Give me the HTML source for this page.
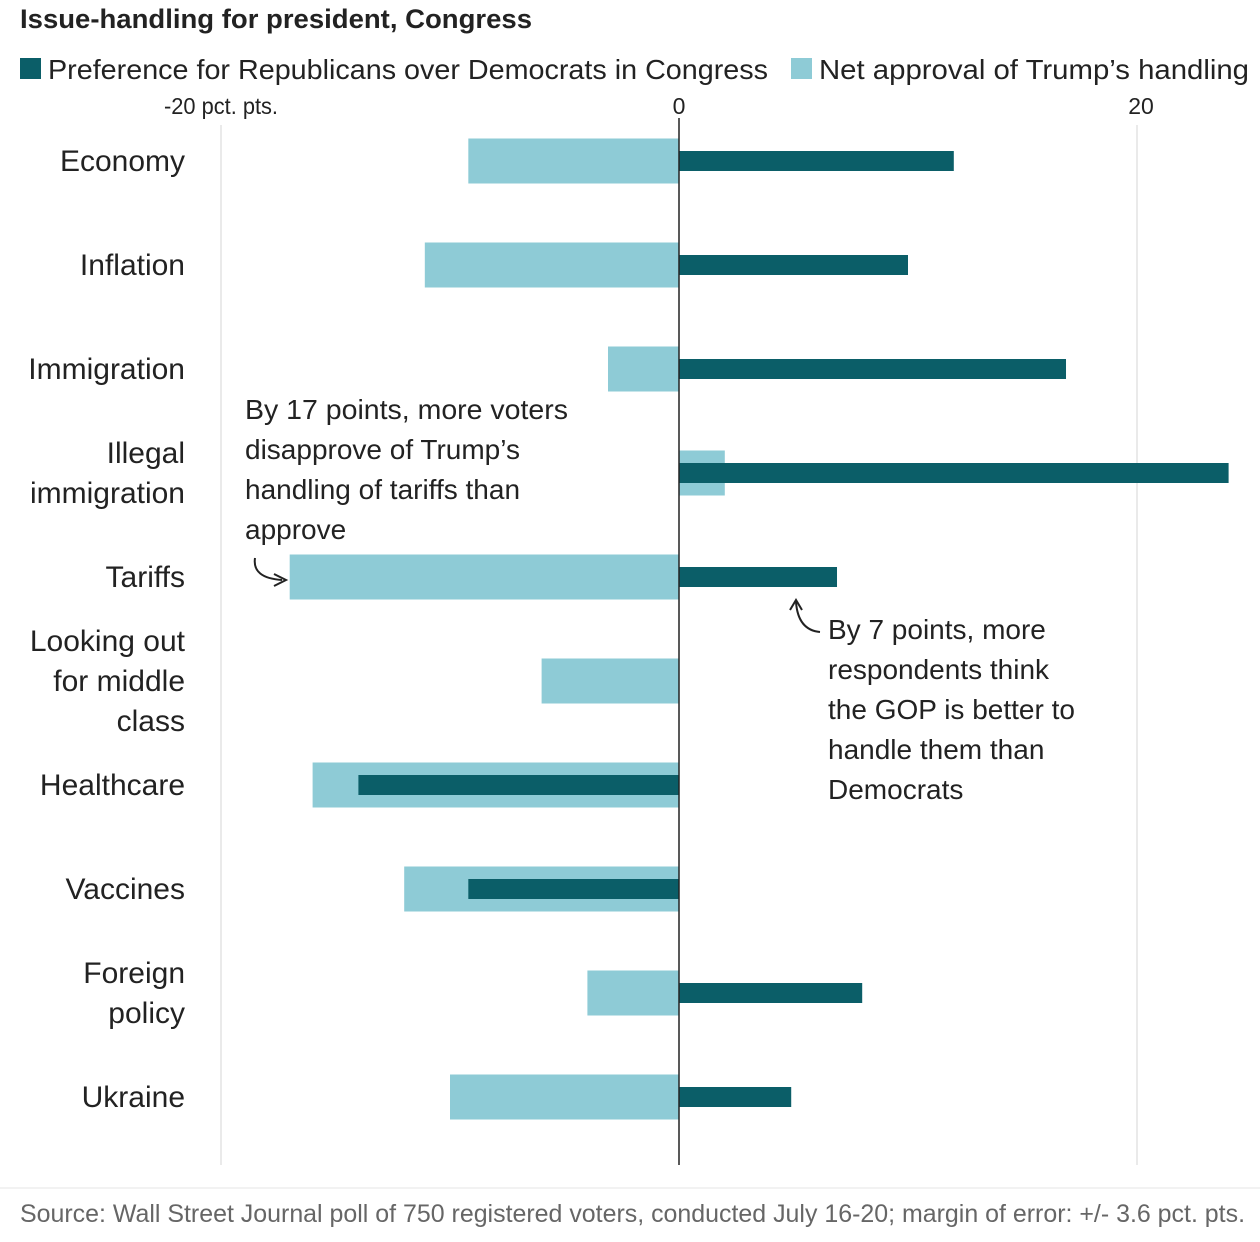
<!DOCTYPE html>
<html><head><meta charset="utf-8"><style>
html,body{margin:0;padding:0;background:#fff}
svg{display:block;font-family:"Liberation Sans",sans-serif}
</style></head><body>
<svg id="chart" width="1260" height="1242" viewBox="0 0 1260 1242">
<text x="20" y="28" font-size="27" font-weight="bold" fill="#222" textLength="512" lengthAdjust="spacingAndGlyphs">Issue-handling for president, Congress</text>
<g>
<rect x="20" y="58" width="21" height="21" fill="#0b5e68"/>
<text x="48" y="79" font-size="28" fill="#222" textLength="720" lengthAdjust="spacingAndGlyphs">Preference for Republicans over Democrats in Congress</text>
<rect x="791" y="58" width="21" height="21" fill="#8ecbd6"/>
<text x="819" y="79" font-size="28" fill="#222" textLength="430" lengthAdjust="spacingAndGlyphs">Net approval of Trump’s handling</text>
</g>
<g id="grid"></g><g id="bars"></g><g id="labels"></g>
<g font-size="28" fill="#222">
<text x="245" y="419" textLength="323" lengthAdjust="spacingAndGlyphs">By 17 points, more voters</text>
<text x="245" y="459">disapprove of Trump’s</text>
<text x="245" y="499">handling of tariffs than</text>
<text x="245" y="539">approve</text>
<path d="M255 558 Q252 578 282 580" fill="none" stroke="#222" stroke-width="2"/>
<path d="M274 574 L286 580 L274 586" fill="none" stroke="#222" stroke-width="2"/>
</g>
<g font-size="28" fill="#222">
<text x="828" y="639">By 7 points, more</text>
<text x="828" y="679">respondents think</text>
<text x="828" y="719">the GOP is better to</text>
<text x="828" y="759">handle them than</text>
<text x="828" y="799">Democrats</text>
<path d="M820 632 Q798 630 796 602" fill="none" stroke="#222" stroke-width="2"/>
<path d="M790 610 L796 600 L802 610" fill="none" stroke="#222" stroke-width="2"/>
</g>
<line x1="0" y1="1188" x2="1260" y2="1188" stroke="#e6e6e6" stroke-width="1"/>
<text x="20" y="1222" font-size="25" fill="#666" textLength="1225" lengthAdjust="spacingAndGlyphs">Source: Wall Street Journal poll of 750 registered voters, conducted July 16-20; margin of error: +/- 3.6 pct. pts.</text>
</svg>
<script>
const categories = [["Economy"],["Inflation"],["Immigration"],["Illegal","immigration"],["Tariffs"],["Looking out","for middle","class"],["Healthcare"],["Vaccines"],["Foreign","policy"],["Ukraine"]];
const congressValues = [12,10,16.9,24,6.9,0,-14,-9.2,8,4.9];
const trumpValues = [-9.2,-11.1,-3.1,2,-17,-6,-16,-12,-4,-10];
const tickValues = [-20,0,20];
const tickLabels = ["-20 pct. pts.","0","20"];
const NS="http://www.w3.org/2000/svg";
const x0=679, ppu=22.9, rowTop=161, rowStep=104;
const xs=v=>x0+v*ppu, ys=i=>rowTop+i*rowStep;
function mk(tag,attrs,parent){const e=document.createElementNS(NS,tag);for(const k in attrs)e.setAttribute(k,attrs[k]);parent.appendChild(e);return e;}
const grid=document.getElementById('grid'),bars=document.getElementById('bars'),labels=document.getElementById('labels');
tickValues.forEach((t,i)=>{
  if(t!==0){const l=mk('line',{x1:xs(t),x2:xs(t),y1:125,y2:1165,stroke:'#e3e3e3','stroke-width':1.5},grid);
  
  }
  const tx=mk('text',{x:xs(t),y:114,'font-size':23,fill:'#222','text-anchor':'middle'},grid);
  tx.textContent=tickLabels[i];
  
  
  if(i===0){tx.setAttribute('textLength','114');tx.setAttribute('lengthAdjust','spacingAndGlyphs');}
  if(t===20)tx.setAttribute('x',xs(t)+4);
});
categories.forEach((c,i)=>{
  const y=ys(i),tv=trumpValues[i],cv=congressValues[i];
  const r1=mk('rect',{x:Math.min(xs(0),xs(tv)),y:y-22.5,width:Math.abs(xs(tv)-xs(0)),height:45,fill:'#8ecbd6'},bars);
  
  
  const r2=mk('rect',{x:Math.min(xs(0),xs(cv)),y:y-10,width:Math.abs(xs(cv)-xs(0)),height:20,fill:'#0b5e68'},bars);
  
  
  const n=c.length;
  c.forEach((line,j)=>{
    const t=mk('text',{x:185,y:y+10+(j-(n-1)/2)*40,'font-size':30,fill:'#222','text-anchor':'end'},labels);
    t.textContent=line;
    
    
  });
});
const z=mk('line',{x1:x0,x2:x0,y1:118,y2:1165,stroke:'#222','stroke-width':1.5},bars);


</script>
</body></html>
